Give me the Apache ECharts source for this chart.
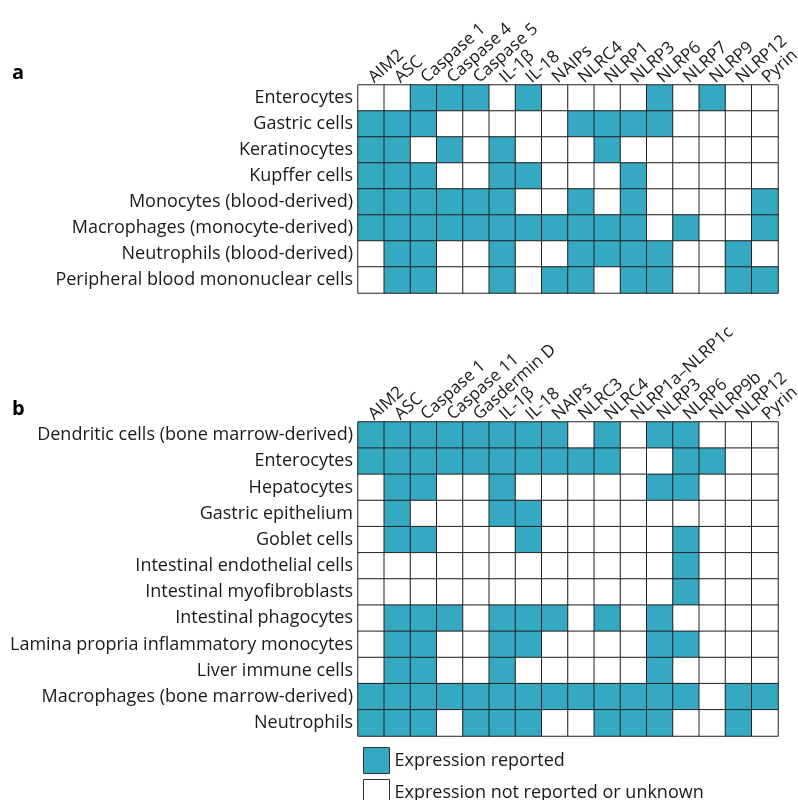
<!DOCTYPE html>
<html>
<head>
<meta charset="utf-8">
<script src="https://cdn.jsdelivr.net/npm/echarts@6/dist/echarts.min.js"></script>
<style>html,body{margin:0;padding:0;background:#fff;}#c{width:798px;height:800px;}</style>
</head>
<body>
<div id="c"></div>
<script>
var colsA = ['AIM2','ASC','Caspase 1','Caspase 4','Caspase 5','IL-1β','IL-18','NAIPs','NLRC4','NLRP1','NLRP3','NLRP6','NLRP7','NLRP9','NLRP12','Pyrin'];
var rowsA = ['Enterocytes','Gastric cells','Keratinocytes','Kupffer cells','Monocytes (blood-derived)','Macrophages (monocyte-derived)','Neutrophils (blood-derived)','Peripheral blood mononuclear cells'];
var valsA = [
  [0,0,1,1,1,0,1,0,0,0,0,1,0,1,0,0],
  [1,1,1,0,0,0,0,0,1,1,1,1,0,0,0,0],
  [1,1,0,1,0,1,0,0,0,1,0,0,0,0,0,0],
  [1,1,1,0,0,1,1,0,0,0,1,0,0,0,0,0],
  [1,1,1,1,1,1,0,0,1,0,1,0,0,0,0,1],
  [1,1,1,1,1,1,1,1,1,1,1,0,1,0,0,1],
  [0,1,1,0,0,1,0,0,1,1,1,1,0,0,1,0],
  [0,1,1,0,0,1,0,1,1,0,1,1,0,0,1,1]
];
var colsB = ['AIM2','ASC','Caspase 1','Caspase 11','Gasdermin D','IL-1β','IL-18','NAIPs','NLRC3','NLRC4','NLRP1a–NLRP1c','NLRP3','NLRP6','NLRP9b','NLRP12','Pyrin'];
var rowsB = ['Dendritic cells (bone marrow-derived)','Enterocytes','Hepatocytes','Gastric epithelium','Goblet cells','Intestinal endothelial cells','Intestinal myofibroblasts','Intestinal phagocytes','Lamina propria inflammatory monocytes','Liver immune cells','Macrophages (bone marrow-derived)','Neutrophils'];
var valsB = [
  [1,1,1,1,1,1,1,1,0,1,0,1,1,0,0,0],
  [1,1,1,1,1,1,1,1,1,1,0,0,1,1,0,0],
  [0,1,1,0,0,1,0,0,0,0,0,1,1,0,0,0],
  [0,1,0,0,0,1,1,0,0,0,0,0,0,0,0,0],
  [0,1,1,0,0,0,1,0,0,0,0,0,1,0,0,0],
  [0,0,0,0,0,0,0,0,0,0,0,0,1,0,0,0],
  [0,0,0,0,0,0,0,0,0,0,0,0,1,0,0,0],
  [0,1,1,1,0,1,1,1,0,1,0,1,0,0,0,0],
  [0,1,1,0,0,1,1,0,0,0,0,1,1,0,0,0],
  [0,1,1,0,0,1,0,0,0,0,0,1,0,0,0,0],
  [1,1,1,1,1,1,1,1,1,1,1,1,1,0,1,1],
  [1,1,1,0,1,1,1,0,0,1,1,1,0,0,1,0]
];
var legendNames = ['Expression reported','Expression not reported or unknown'];

var TEAL = '#35a9c2';
var FONT = '"Open Sans", Lato, sans-serif';
function toData(vals){
  var d = [];
  for (var r = 0; r < vals.length; r++)
    for (var c = 0; c < vals[r].length; c++) d.push([c, r, vals[r][c]]);
  return d;
}
function xAx(idx, cols){
  return {type:'category', gridIndex:idx, position:'top', data:cols,
    axisLine:{show:false}, axisTick:{show:false}, splitLine:{show:false},
    axisLabel:{interval:0, rotate:-42, margin:5, fontSize:17, color:'#1a1a1a', fontFamily:FONT}};
}
function yAx(idx, rows){
  return {type:'category', gridIndex:idx, inverse:true, data:rows,
    axisLine:{show:false}, axisTick:{show:false}, splitLine:{show:false},
    axisLabel:{interval:0, margin:5, fontSize:18, color:'#1a1a1a', fontFamily:FONT}};
}
function leg(name, top){
  return {orient:'vertical', left:358, top:top, itemWidth:26, itemHeight:26,
    icon:'rect', selectedMode:false,
    itemStyle:{borderColor:'#333', borderWidth:1, opacity:1},
    textStyle:{fontSize:18, color:'#1a1a1a', fontFamily:FONT},
    data:[name]};
}
var chart = echarts.init(document.getElementById('c'), null, {renderer:'canvas'});
chart.setOption({
  backgroundColor:'#fff',
  animation:false,
  title:[
    {text:'a', left:7, top:58, textStyle:{fontSize:20, fontWeight:'bold', color:'#000', fontFamily:FONT}},
    {text:'b', left:7, top:394, textStyle:{fontSize:20, fontWeight:'bold', color:'#000', fontFamily:FONT}}
  ],
  grid:[
    {left:358, top:85, width:420, height:208, containLabel:false, outerBoundsMode:'none'},
    {left:358, top:422, width:420, height:314, containLabel:false, outerBoundsMode:'none'}
  ],
  xAxis:[xAx(0, colsA), xAx(1, colsB)],
  yAxis:[yAx(0, rowsA), yAx(1, rowsB)],
  visualMap:{show:false, type:'piecewise', seriesIndex:[0,1], dimension:2,
    pieces:[{value:1, color:TEAL},{value:0, color:'#ffffff'}]},
  legend:[leg(legendNames[0], 742), leg(legendNames[1], 774)],
  series:[
    {type:'heatmap', xAxisIndex:0, yAxisIndex:0, data:toData(valsA),
      itemStyle:{borderColor:'#222', borderWidth:1}, emphasis:{disabled:true}},
    {type:'heatmap', xAxisIndex:1, yAxisIndex:1, data:toData(valsB),
      itemStyle:{borderColor:'#222', borderWidth:1}, emphasis:{disabled:true}},
    {type:'scatter', name:legendNames[0], xAxisIndex:0, yAxisIndex:0, data:[],
      itemStyle:{color:TEAL, borderColor:'#333', borderWidth:1, opacity:1}},
    {type:'scatter', name:legendNames[1], xAxisIndex:0, yAxisIndex:0, data:[],
      itemStyle:{color:'#ffffff', borderColor:'#333', borderWidth:1, opacity:1}}
  ]
});
</script>
</body>
</html>
